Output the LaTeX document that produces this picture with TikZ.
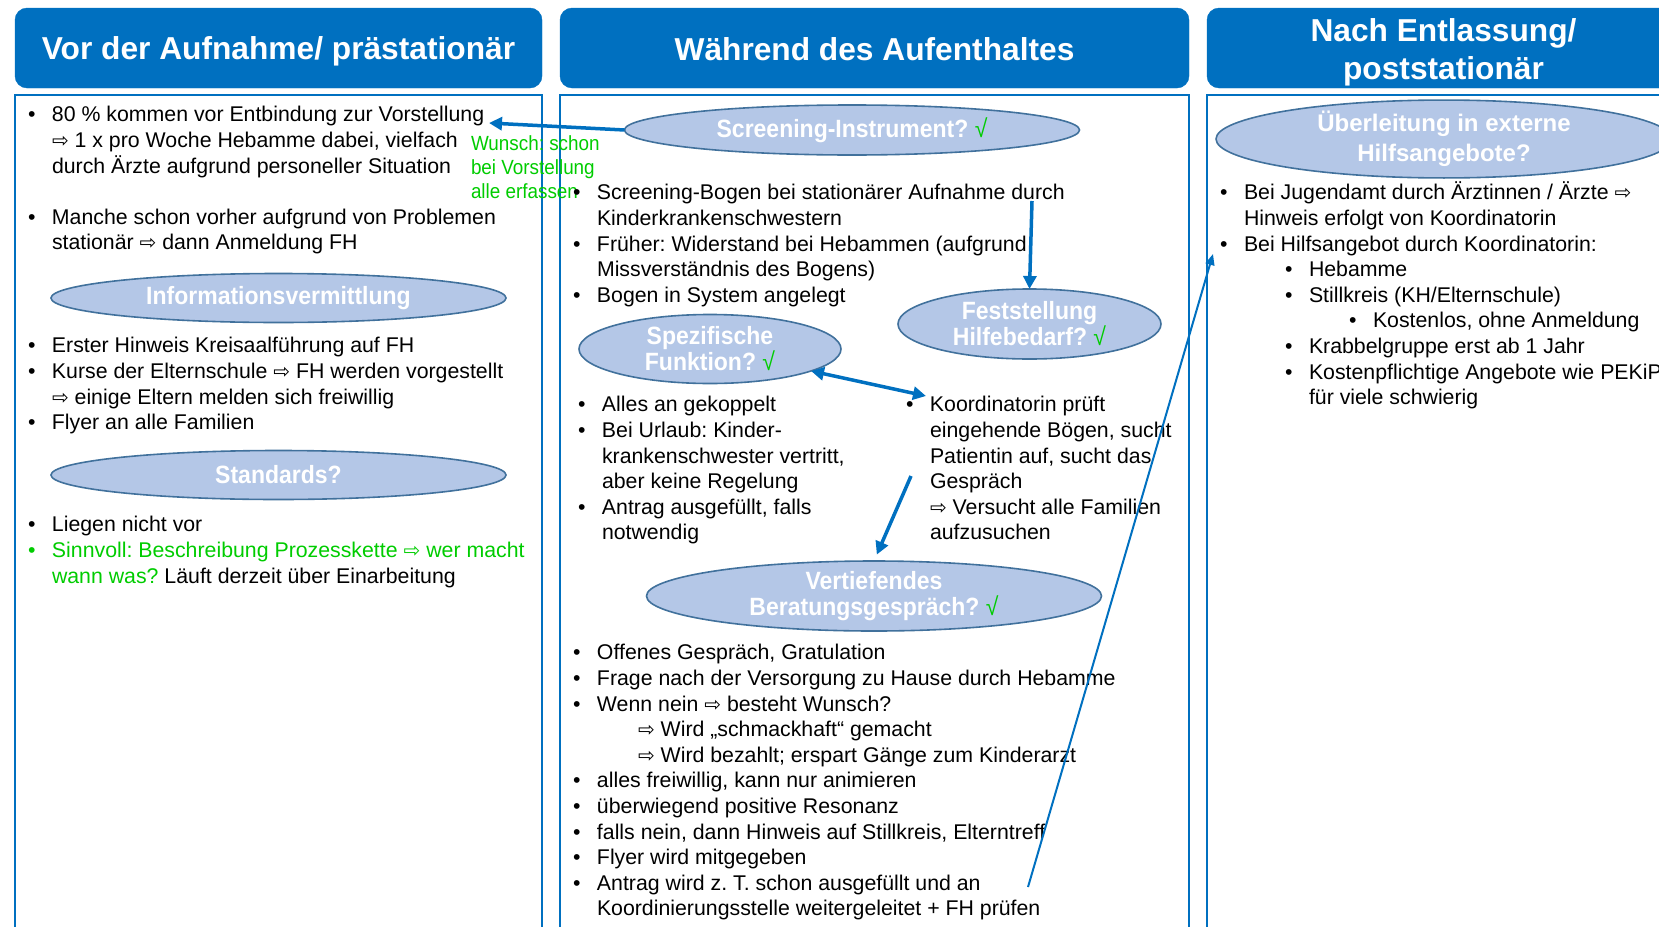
\documentclass[tikz,border=0pt]{standalone}
\usepackage{fontspec}
\setmainfont{Liberation Sans}
\frenchspacing
\newfontfamily\narrowfont[FakeStretch=0.92]{Liberation Sans}
\newfontfamily\symbfont{DejaVu Sans}
\newcommand*{\bodyfont}{\fontsize{21.3}{25.6}\selectfont}
\newcommand*{\notefont}{\narrowfont\fontsize{20.5}{24}\selectfont}
\newcommand*{\headfont}{\fontsize{31.7}{38}\selectfont\bfseries}
\newcommand*{\ellfont}{\narrowfont\fontsize{25}{26}\selectfont\bfseries}
\newcommand*{\widefont}{\fontsize{24}{29.5}\selectfont\bfseries}
\newcommand*{\hstrut}{\rule[-6pt]{0pt}{36pt}}
\newcommand*{\bul}{\llap{\makebox[24pt][l]{•}}}
\newcommand*{\ra}{{\symbfont\fontsize{20}{20}\selectfont ⇨}}
\newcommand*{\ok}{{\mdseries\color{okgreen}√}}
\definecolor{hdr}{RGB}{0,112,192}
\definecolor{ellfill}{RGB}{180,199,231}
\definecolor{elldraw}{RGB}{65,113,156}
\definecolor{okgreen}{RGB}{0,204,0}
\usepackage{tikz}
\usetikzlibrary{arrows.meta}
\usetikzlibrary{shapes.geometric}
\tikzstyle{base}=[inner sep=0pt, outer sep=0pt]
\tikzstyle{header}=[draw=hdr, fill=hdr, rounded corners=12pt, text=white, align=center, font=\headfont]
\tikzstyle{column}=[draw=hdr, line width=1.5pt]
\tikzstyle{topic}=[ellipse, draw=elldraw, line width=1.6pt, fill=ellfill, text=white, align=center, font=\ellfont]
\tikzstyle{body}=[anchor=north west, align=left, font=\bodyfont]
\tikzstyle{link}=[hdr, line width=3.5pt, -{Triangle[length=13pt,width=13pt]}]
\tikzstyle{thinlink}=[hdr, line width=2pt, -{Triangle[length=11pt,width=9pt]}]

\begin{document}
\begin{tikzpicture}[base, x=1pt, y=-1pt]
    \path [use as bounding box] (0,0) rectangle (1659,926);
    \clip (0,0) rectangle (1659,926);
    % headers
    \node [header, minimum width=527pt, minimum height=80pt] (vor) at (278.5,48) {\hstrut Vor der Aufnahme/ prästationär};
    \node [header, minimum width=629pt, minimum height=80pt] (waehrend) at (874.5,48) {\hstrut Während des Aufenthaltes};
    \node [header, minimum width=473pt, minimum height=80pt] (nach) at (1443.5,48) {\rule{0pt}{31pt}Nach Entlassung/\\poststationär};
    \draw [column] (15,95) rectangle (542,940);
    \draw [column] (560,95) rectangle (1189,940);
    \draw [column] (1207,95) rectangle (1700,940);
    % column 1
    \node [body] (prae) at (52,104) {\strut\bul 80 \% kommen vor Entbindung zur Vorstellung\\
        \ra{} 1 x pro Woche Hebamme dabei, vielfach\\
        durch Ärzte aufgrund personeller Situation\\[25.6pt]
        \bul Manche schon vorher aufgrund von Problemen\\
        stationär \ra{} dann Anmeldung FH};
    \node [topic, minimum width=455pt, minimum height=49pt] (info) at (278.5,298) {Informationsvermittlung};
    \node [body] (kurse) at (52,335) {\strut\bul Erster Hinweis Kreisaalführung auf FH\\
        \bul Kurse der Elternschule \ra{} FH werden vorgestellt\\
        \ra{} einige Eltern melden sich freiwillig\\
        \bul Flyer an alle Familien};
    \node [topic, minimum width=455pt, minimum height=49pt] (standards) at (278.5,475) {Standards?};
    \node [body] (liegen) at (52,514) {\strut\bul Liegen nicht vor\\
        {\color{okgreen}\bul Sinnvoll: Beschreibung Prozesskette \ra{} wer macht}\\
        {\color{okgreen}wann was?} Läuft derzeit über Einarbeitung};
    \node [anchor=north west, align=left, font=\notefont, text=okgreen] (wunsch) at (471,134) {\strut Wunsch: schon\\bei Vorstellung\\alle erfassen};
    % column 2
    \node [topic, minimum width=455pt, minimum height=50pt] (scr) at (852,130) {Screening-Instrument? \ok};
    \node [body] (bogen) at (597,182) {\strut\bul Screening-Bogen bei stationärer Aufnahme durch\\
        Kinderkrankenschwestern\\
        \bul Früher: Widerstand bei Hebammen (aufgrund\\
        Missverständnis des Bogens)\\
        \bul Bogen in System angelegt};
    \node [topic, minimum width=263pt, minimum height=70pt] (fest) at (1029.5,324) {Feststellung\\Hilfebedarf? \ok};
    \node [topic, minimum width=262pt, minimum height=69pt] (spez) at (710,349) {Spezifische\\Funktion? \ok};
    \node [body] (urlaub) at (602,394) {\strut\bul Alles an gekoppelt\\
        \bul Bei Urlaub: Kinder-\\
        krankenschwester vertritt,\\
        aber keine Regelung\\
        \bul Antrag ausgefüllt, falls\\
        notwendig};
    \node [body] (pruef) at (930,394) {\strut\bul Koordinatorin prüft\\
        eingehende Bögen, sucht\\
        Patientin auf, sucht das\\
        Gespräch\\
        \ra{} Versucht alle Familien\\
        aufzusuchen};
    \node [topic, minimum width=455pt, minimum height=70pt] (vert) at (874,596) {Vertiefendes\\Beratungsgespräch? \ok};
    \node [body] (beratung) at (597,642) {\strut\bul Offenes Gespräch, Gratulation\\
        \bul Frage nach der Versorgung zu Hause durch Hebamme\\
        \bul Wenn nein \ra{} besteht Wunsch?\\
        \hspace*{41pt}\ra{} Wird „schmackhaft“ gemacht\\
        \hspace*{41pt}\ra{} Wird bezahlt; erspart Gänge zum Kinderarzt\\
        \bul alles freiwillig, kann nur animieren\\
        \bul überwiegend positive Resonanz\\
        \bul falls nein, dann Hinweis auf Stillkreis, Elterntreff\\
        \bul Flyer wird mitgegeben\\
        \bul Antrag wird z. T. schon ausgefüllt und an\\
        Koordinierungsstelle weitergeleitet + FH prüfen};
    % column 3
    \node [topic, font=\widefont, minimum width=456pt, minimum height=70pt] (ueber) at (1444,139) {Überleitung in externe\\Hilfsangebote?};
    \node [body] (angebote) at (1244,182) {\strut\bul Bei Jugendamt durch Ärztinnen / Ärzte \ra\\
        Hinweis erfolgt von Koordinatorin\\
        \bul Bei Hilfsangebot durch Koordinatorin:\\
        \hspace*{65pt}\bul Hebamme\\
        \hspace*{65pt}\bul Stillkreis (KH/Elternschule)\\
        \hspace*{129pt}\bul Kostenlos, ohne Anmeldung\\
        \hspace*{65pt}\bul Krabbelgruppe erst ab 1 Jahr\\
        \hspace*{65pt}\bul Kostenpflichtige Angebote wie PEKiP\\
        \hspace*{65pt}für viele schwierig};
    % arrows
    \coordinate (vorst) at (489,123);
    \coordinate (durch) at (1032,201);
    \coordinate (koord) at (926,396);
    \coordinate (gesp) at (911,476);
    \coordinate (antrag) at (1028,887);
    \coordinate (hilfe) at (1213,254);
    \draw [link] (scr.west) -- (vorst);
    \draw [link] (durch) -- (fest.north);
    \draw [link, {Triangle[length=13pt,width=13pt]}-{Triangle[length=13pt,width=13pt]}] (spez) -- (koord);
    \draw [link, shorten >=7pt] (gesp) -- (vert.north);
    \draw [thinlink] (antrag) -- (hilfe);
\end{tikzpicture}
\end{document}
